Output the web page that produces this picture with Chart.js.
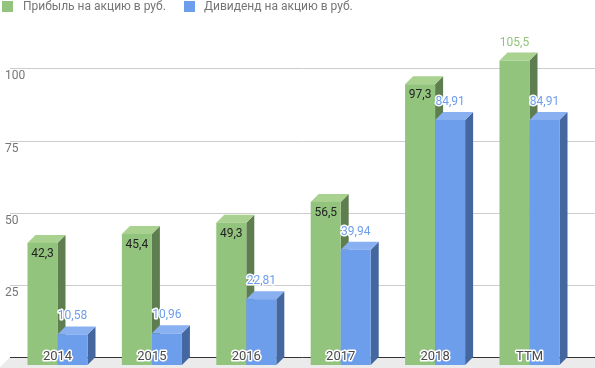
<!DOCTYPE html>
<html><head><meta charset="utf-8">
<script src="https://cdn.jsdelivr.net/npm/chart.js@4/dist/chart.umd.min.js"></script>
<style>html,body{margin:0;padding:0;background:#fff}#wrap{width:595px;height:368px}</style>
</head><body><div id="wrap"><canvas id="c" width="595" height="368"></canvas></div>
<script>
const categories = ['2014','2015','2016','2017','2018','TTM'];
const profit = [42.3, 45.4, 49.3, 56.5, 97.3, 105.5];
const dividend = [10.58, 10.96, 22.81, 39.94, 84.91, 84.91];
const yTicks = [25, 50, 75, 100];
const seriesNames = ['Прибыль на акцию в руб.', 'Дивиденд на акцию в руб.'];

const FONT = 'Roboto, "Noto Sans", Arial, sans-serif';
const DX = 8, DY = 8;
const colors = [
  {front:'#93c47d', top:'#a9d18f', side:'#5f7e50', label:'#93c47d'},
  {front:'#6d9eeb', top:'#89b0f0', side:'#45679f', label:'#6d9eeb'}
];
const fmt = v => String(v).replace('.', ',');

const threeD = {
  id: 'threeD',
  beforeDatasetsDraw(chart) {
    const ctx = chart.ctx, y = chart.scales.y;
    const base = y.getPixelForValue(0);
    ctx.save();
    // floor
    ctx.fillStyle = '#ebebeb';
    ctx.beginPath();
    ctx.moveTo(10, base); ctx.lineTo(600, base); ctx.lineTo(600, 370); ctx.lineTo(-3, 370);
    ctx.closePath(); ctx.fill();
    // grid
    ctx.strokeStyle = '#cccccc'; ctx.lineWidth = 1;
    yTicks.forEach(t => {
      const py = Math.round(y.getPixelForValue(t)) + 0.5;
      ctx.beginPath(); ctx.moveTo(10, py); ctx.lineTo(595, py); ctx.stroke();
    });
    ctx.strokeStyle = '#333333';
    ctx.beginPath(); ctx.moveTo(10, Math.round(base)+0.5); ctx.lineTo(595, Math.round(base)+0.5); ctx.stroke();
    // y labels
    ctx.fillStyle = '#757575'; ctx.font = '12px ' + FONT;
    ctx.textAlign = 'left'; ctx.textBaseline = 'middle';
    yTicks.forEach(t => ctx.fillText(String(t), 5, y.getPixelForValue(t) + 8));
    // legend
    ctx.fillStyle = colors[0].front; ctx.fillRect(2, 1, 11, 11);
    ctx.fillStyle = colors[1].front; ctx.fillRect(184, 1, 11, 11);
    ctx.fillStyle = '#757575';
    ctx.fillText(seriesNames[0], 23, 7);
    ctx.fillText(seriesNames[1], 204, 7);
    ctx.restore();
  },
  afterDatasetsDraw(chart) {
    const ctx = chart.ctx;
    const metas = chart.data.datasets.map((d, i) => chart.getDatasetMeta(i));
    ctx.save();
    for (let i = 0; i < categories.length; i++) {
      metas.forEach((meta, di) => {
        const el = meta.data[i];
        const c = colors[di];
        const L = el.x - el.width/2, R = el.x + el.width/2, T = el.y, B = el.base;
        // side
        ctx.fillStyle = c.side;
        ctx.beginPath();
        ctx.moveTo(R-DX, T+DY); ctx.lineTo(R, T); ctx.lineTo(R, B); ctx.lineTo(R-DX, B+DY);
        ctx.closePath(); ctx.fill();
        // top
        ctx.fillStyle = c.top;
        ctx.beginPath();
        ctx.moveTo(L-DX, T+DY); ctx.lineTo(R-DX, T+DY); ctx.lineTo(R, T); ctx.lineTo(L, T);
        ctx.closePath(); ctx.fill();
        // front
        ctx.fillStyle = c.front;
        ctx.fillRect(L-DX, T+DY, R-L, B-T);
      });
    }
    // value labels
    ctx.font = '12px ' + FONT; ctx.textAlign = 'center'; ctx.textBaseline = 'middle';
    ctx.lineJoin = 'round';
    metas.forEach((meta, di) => {
      const vals = chart.data.datasets[di].data;
      meta.data.forEach((el, i) => {
        const cx = el.x - DX;
        const txt = fmt(vals[i]);
        const inside = di === 0 && i < categories.length - 1;
        if (inside) {
          ctx.fillStyle = '#222222';
          ctx.fillText(txt, cx, el.y + DY + 11);
        } else {
          ctx.strokeStyle = '#ffffff'; ctx.lineWidth = 3;
          ctx.strokeText(txt, cx, el.y - 10);
          ctx.fillStyle = colors[di].label;
          ctx.fillText(txt, cx, el.y - 10);
        }
      });
    });
    // category labels
    const x = chart.scales.x, base = chart.scales.y.getPixelForValue(0);
    ctx.font = '13px ' + FONT;
    categories.forEach((c, i) => {
      const cx = x.getPixelForValue(i) - DX;
      ctx.strokeStyle = '#ffffff'; ctx.lineWidth = 3;
      ctx.strokeText(c, cx, base);
      ctx.fillStyle = '#4a4a4a';
      ctx.fillText(c, cx, base);
    });
    ctx.restore();
  }
};

new Chart(document.getElementById('c'), {
  type: 'bar',
  data: {
    labels: categories,
    datasets: [
      {label: seriesNames[0], data: profit, backgroundColor: 'rgba(0,0,0,0)'},
      {label: seriesNames[1], data: dividend, backgroundColor: 'rgba(0,0,0,0)'}
    ]
  },
  options: {
    responsive: false, animation: false,
    layout: {padding: {left: 18.3, right: 10.3, top: 10.7, bottom: 11}},
    plugins: {legend: {display: false}, tooltip: {enabled: false}},
    datasets: {bar: {categoryPercentage: 0.636, barPercentage: 1}},
    scales: {
      x: {display: false, offset: true},
      y: {display: false, min: 0, max: 120}
    }
  },
  plugins: [threeD]
});
</script></body></html>
